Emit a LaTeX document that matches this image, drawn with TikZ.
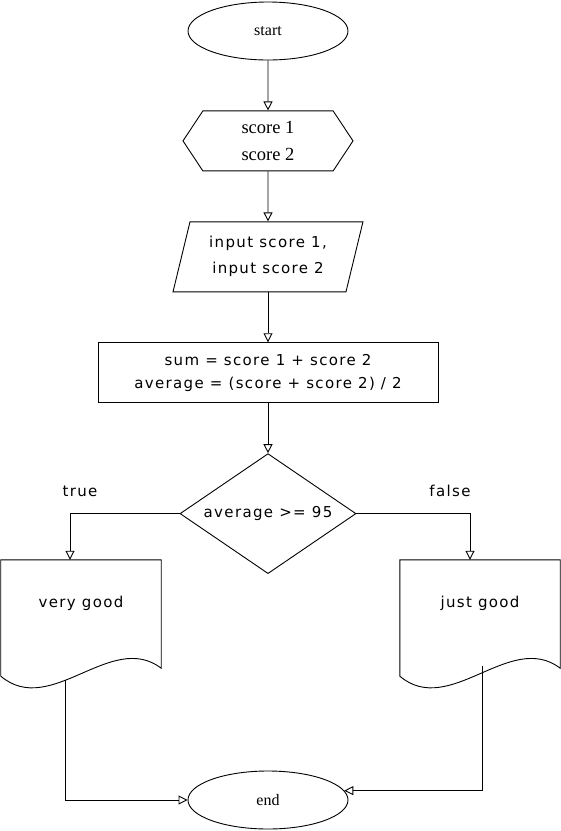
\documentclass[tikz,border=0pt]{standalone}
\usepackage{fontspec}
\setmainfont{Liberation Serif}
\newfontfamily\sketchfont[LetterSpace=9]{DejaVu Sans}
\usetikzlibrary{positioning, arrows.meta, shapes.geometric, shapes.symbols}

% document shape with wavy bottom
\newcommand{\docshape}[1]{
    \draw[line width=0.9pt] (#1.north west) -- (#1.north east) -- ([yshift=-22pt]#1.south east)
    .. controls +(-50,38) and +(50,-42) .. ([yshift=-30pt]#1.south west) -- cycle;
}

\begin{document}
\begin{tikzpicture}[
            x=1pt, y=1pt,
            node distance=50pt,
            >={Triangle[open, length=9pt, width=9pt]},
            % Styles
            terminal/.style={ellipse, draw, line width=0.9pt, minimum width=160pt,
                    minimum height=58pt, font=\fontsize{16}{18}\selectfont},
            prep/.style={signal, signal to=east and west, signal pointer angle=113, draw,
                    line width=0.9pt, minimum width=170pt, minimum height=60pt, align=center,
                    font=\fontsize{18.5}{27}\selectfont},
            io/.style={trapezium, trapezium left angle=74, trapezium right angle=106,
                    trapezium stretches=true, draw, line width=0.9pt, minimum width=190pt,
                    minimum height=70pt, align=center, font=\sketchfont\fontsize{15}{26}\selectfont},
            process/.style={rectangle, draw, line width=0.9pt, minimum width=340pt,
                    minimum height=60pt, align=center, font=\sketchfont\fontsize{15}{23}\selectfont},
            decision/.style={diamond, draw, line width=0.9pt, aspect=1.47, inner sep=0pt,
                    minimum width=176pt, minimum height=120pt, font=\sketchfont\fontsize{15}{17}\selectfont},
            doc/.style={rectangle, minimum width=160pt, minimum height=86pt, align=center,
                    font=\sketchfont\fontsize{15}{17}\selectfont},
            lbl/.style={font=\sketchfont\fontsize{15}{17}\selectfont},
            arrow/.style={->, line width=0.9pt},
        ]
            \useasboundingbox (0,0) rectangle (561,-831);

            % === MAIN COLUMN ===
            \node[terminal] (start) at (268,-31) {start};
            \node[prep, below=of start] (scores) {score 1\\score 2};
            \node[io, below=of scores] (input) {input score 1,\\input score 2};
            \node[process, below=of input] (calc) {sum = score 1 + score 2\\average = (score + score 2) / 2};
            \node[decision, below=of calc] (check) {average >= 95};

            % === RESULTS ===
            \node[doc] (vgood) at (81,-603) {very good};
            \node[doc] (jgood) at (480,-603) {just good};
            \docshape{vgood}
            \docshape{jgood}

            \node[terminal] (fin) at (268,-800) {end};

            % === CONNECTIONS ===
            \draw[arrow] (start) -- (scores);
            \draw[arrow] (scores) -- (input);
            \draw[arrow] (input.south -| calc.north) -- (calc);
            \draw[arrow] (calc) -- (check);

            % branches
            \draw[arrow] (check.west) -| ([xshift=-11pt]vgood.north)
            node[lbl, pos=0.5, above=13pt, xshift=10pt] {true};
            \draw[arrow] (check.east) -| ([xshift=-10pt]jgood.north)
            node[lbl, pos=0.5, above=13pt, xshift=-20pt] {false};

            % back to end
            \draw[arrow] ([shift={(-16,-34)}]vgood.south) |- (fin.west);
            \draw[arrow] ([shift={(2,-20)}]jgood.south) |- (fin.7);

        \end{tikzpicture}
\end{document}
